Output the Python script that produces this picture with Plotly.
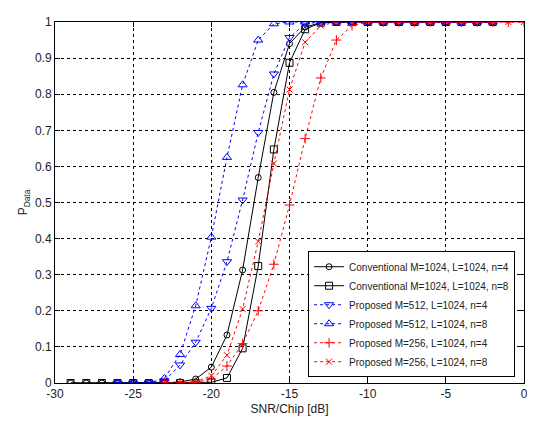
import plotly.graph_objects as go

# ---- data ----
x_conv = list(range(-29, -1))          # -29 .. -2
x_p512 = list(range(-26, -1))          # -26 .. -2
x_p256 = list(range(-23, 1))           # -23 .. 0

conv_n4 = [0, 0, 0, 0, 0, 0, 0, 0.003, 0.011, 0.044, 0.133, 0.313, 0.569, 0.805,
           0.94, 0.986, 0.998, 1, 1, 1, 1, 1, 1, 1, 1, 1, 1, 1]
conv_n8 = [0, 0, 0, 0, 0, 0, 0, 0, 0, 0.002, 0.014, 0.096, 0.324, 0.647,
           0.887, 0.98, 0.998, 1, 1, 1, 1, 1, 1, 1, 1, 1, 1, 1]
p512_n4 = [0, 0, 0, 0.006, 0.05, 0.113, 0.207, 0.336, 0.507, 0.694, 0.856, 0.957,
           0.995, 1, 1, 1, 1, 1, 1, 1, 1, 1, 1, 1, 1]
p512_n8 = [0, 0, 0, 0.013, 0.079, 0.214, 0.404, 0.625, 0.826, 0.95, 0.995, 1,
           1, 1, 1, 1, 1, 1, 1, 1, 1, 1, 1, 1, 1]
p256_n4 = [0, 0, 0.002, 0.011, 0.047, 0.109, 0.2, 0.329, 0.493, 0.677, 0.845, 0.95,
           0.99, 1, 1, 1, 1, 1, 1, 1, 1, 1, 1, 1]
p256_n8 = [0, 0, 0.003, 0.02, 0.077, 0.205, 0.392, 0.608, 0.813, 0.944, 0.99, 1,
           1, 1, 1, 1, 1, 1, 1, 1, 1, 1, 1, 1]

names = ["Conventional M=1024, L=1024, n=4",
         "Conventional M=1024, L=1024, n=8",
         "Proposed M=512, L=1024, n=4",
         "Proposed M=512, L=1024, n=8",
         "Proposed M=256, L=1024, n=4",
         "Proposed M=256, L=1024, n=8"]

x_ticks = [-30, -25, -20, -15, -10, -5, 0]
y_ticks = [0, 0.1, 0.2, 0.3, 0.4, 0.5, 0.6, 0.7, 0.8, 0.9, 1]
y_ticktext = ["0", "0.1", "0.2", "0.3", "0.4", "0.5", "0.6", "0.7", "0.8", "0.9", "1"]

FONT = "Liberation Sans, Arial, sans-serif"

series = [
    (x_conv, conv_n4, names[0], "black", "solid", "circle-open", 6),
    (x_conv, conv_n8, names[1], "black", "solid", "square-open", 7),
    (x_p512, p512_n4, names[2], "blue", "3px,3px", "triangle-down-open", 8),
    (x_p512, p512_n8, names[3], "blue", "3px,3px", "triangle-up-open", 8),
    (x_p256, p256_n4, names[4], "red", "3px,3px", "cross-thin-open", 7),
    (x_p256, p256_n8, names[5], "red", "3px,3px", "x-thin-open", 6),
]

fig = go.Figure()
for xs, ys, nm, col, dash, sym, sz in series:
    fig.add_trace(go.Scatter(
        x=xs, y=ys, name=nm, mode="lines+markers",
        line=dict(color=col, width=1, dash=dash),
        marker=dict(symbol=sym, size=sz, color=col, line=dict(color=col, width=1)),
    ))

axis_common = dict(
    showline=True, linecolor="black", linewidth=1, mirror="ticks",
    ticks="inside", ticklen=5, tickcolor="black",
    showgrid=True, gridcolor="black", gridwidth=1, griddash="dot",
    zeroline=False,
    tickfont=dict(family=FONT, size=12, color="#222"),
)

fig.update_xaxes(range=[-30, 0], tickvals=x_ticks, ticktext=[str(v) for v in x_ticks],
                 title=dict(text="SNR/Chip [dB]", standoff=4,
                            font=dict(family=FONT, size=12, color="#222")),
                 **axis_common)
fig.update_yaxes(range=[0, 1], tickvals=y_ticks, ticktext=y_ticktext,
                 title=dict(text="P<sub>Data</sub>", standoff=4,
                            font=dict(family=FONT, size=12, color="#222")),
                 **axis_common)

fig.update_layout(
    width=527, height=413,
    margin=dict(l=47, r=8, t=7, b=36),
    paper_bgcolor="white", plot_bgcolor="white",
    showlegend=True,
    legend=dict(
        x=0.981, y=0.016, xanchor="right", yanchor="bottom",
        bgcolor="white", bordercolor="black", borderwidth=1,
        font=dict(family=FONT, size=10, color="#222"),
        tracegroupgap=0, itemwidth=30,
    ),
)

fig.write_html("out.html")
